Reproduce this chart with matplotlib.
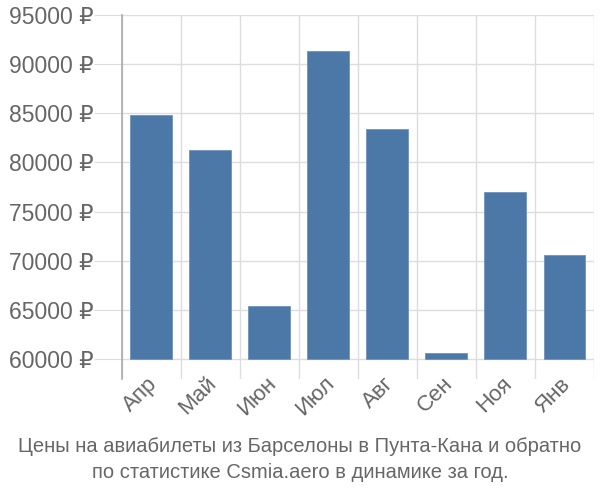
import matplotlib
matplotlib.use("Agg")
import matplotlib.pyplot as plt
import matplotlib.transforms as mtransforms
import numpy as np

# monthly prices
months = ["Апр", "Май", "Июн", "Июл", "Авг", "Сен", "Ноя", "Янв"]
prices = [84800, 81300, 65400, 91300, 83400, 60600, 77000, 70600]
y_ticks = [60000, 65000, 70000, 75000, 80000, 85000, 90000, 95000]
base = 60000
title_lines = ["Цены на авиабилеты из Барселоны в Пунта-Кана и обратно",
               "по статистике Csmia.aero в динамике за год."]

plt.rcParams['font.family'] = ['Liberation Sans', 'DejaVu Sans']

fig = plt.figure(figsize=(6, 5), dpi=100)
ax = fig.add_axes([121.5 / 600, 1 - 379 / 500, 472.5 / 600, 364 / 500])

x = np.arange(len(months))
heights = [p - base for p in prices]
ax.bar(x, heights, bottom=base, width=0.71, color="#4c78a8", edgecolor="#6f93bd",
       linewidth=0.6, zorder=3)

ax.set_xlim(-0.5, len(months) - 0.5)
ax.set_ylim(base - 20 / 344 * 35000, 95000)
ax.set_yticks(y_ticks)
ax.set_yticklabels(["{} ₽".format(v) for v in y_ticks], fontsize=16.5, color="#666666")
ax.set_xticks(x)
ax.set_xticklabels([])

# month labels, rotated, hung from the bottom of the axes
shift = mtransforms.ScaledTranslation(-4 / 100, 6 / 100, fig.dpi_scale_trans)
for i, m in enumerate(months):
    ax.text(x[i], 0, m, transform=ax.get_xaxis_transform() + shift, fontsize=16,
            color="#666666", rotation=45, ha="right", va="top", rotation_mode="anchor")

# vertical grid sits between categories
ax.set_xticks(np.arange(len(months) + 1) - 0.5, minor=True)
ax.grid(True, which="minor", axis="x", color="#dddddd", linewidth=1, zorder=0)
ax.grid(True, which="major", axis="y", color="#dddddd", linewidth=1, zorder=0)
ax.tick_params(axis="x", which="both", length=0)
ax.tick_params(axis="y", length=20, color="#dddddd", pad=0)

for side in ["top", "right", "bottom"]:
    ax.spines[side].set_visible(False)
ax.spines["left"].set_color("#aaaaaa")
ax.spines["left"].set_linewidth(1.2)

fig.text(0.5, 1 - 447 / 500, title_lines[0], ha="center", va="center", fontsize=14.5,
         color="#666666")
fig.text(0.5, 1 - 473 / 500, title_lines[1], ha="center", va="center", fontsize=14.5,
         color="#666666")

fig.savefig("out.png", dpi=100)
